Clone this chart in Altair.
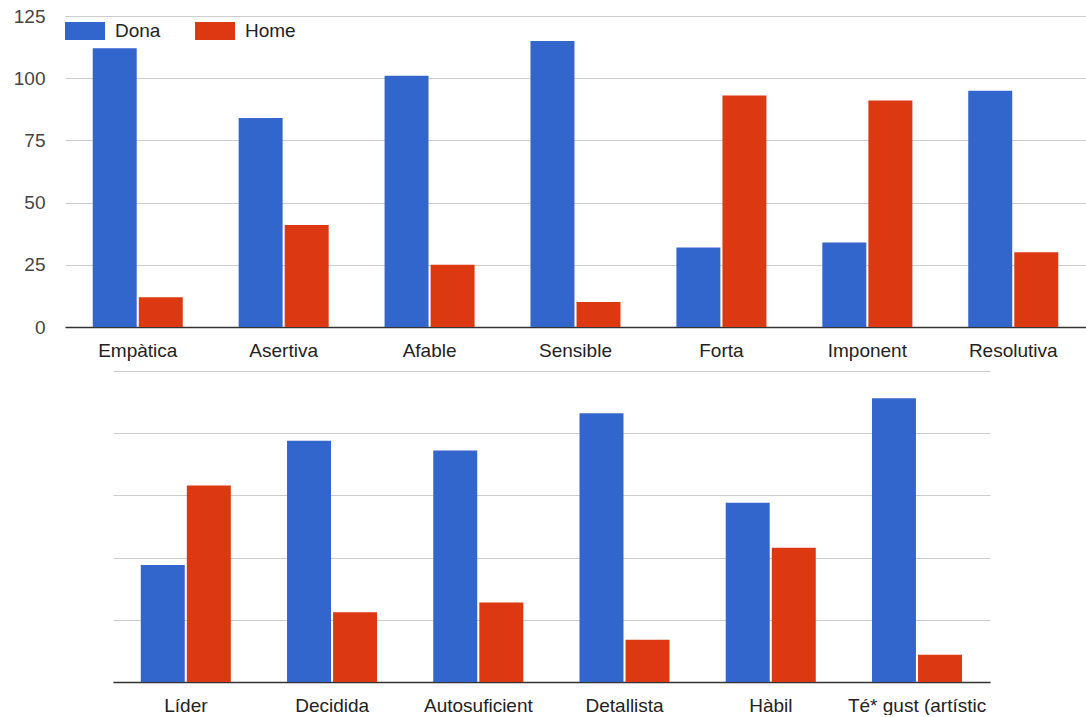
import altair as alt
import pandas as pd

# Series and colours
series = ["Dona", "Home"]
series_colors = ["#3366cc", "#dc3912"]

# Upper panel
top_categories = ["Empàtica", "Asertiva", "Afable", "Sensible", "Forta", "Imponent", "Resolutiva"]
top_dona = [112, 84, 101, 115, 32, 34, 95]
top_home = [12, 41, 25, 10, 93, 91, 30]

# Lower panel
bottom_categories = ["Líder", "Decidida", "Autosuficient", "Detallista", "Hàbil", "Té* gust (artístic"]
bottom_dona = [47, 97, 93, 108, 72, 114]
bottom_home = [79, 28, 32, 17, 54, 11]

y_ticks = [0, 25, 50, 75, 100, 125]

FONT = "Liberation Sans"


def long_table(categories, dona, home):
    rows = []
    for cat, d, h in zip(categories, dona, home):
        rows.append({"category": cat, "series": "Dona", "value": d})
        rows.append({"category": cat, "series": "Home", "value": h})
    return pd.DataFrame(rows)


def panel(categories, dona, home, width, show_y_labels, with_legend):
    df = long_table(categories, dona, home)
    if with_legend:
        legend = alt.Legend(
            title=None,
            orient="none",
            legendX=0,
            legendY=-5,
            direction="horizontal",
            symbolType="M-1,-0.45L1,-0.45L1,0.45L-1,0.45Z",
            symbolSize=1600,
            symbolStrokeWidth=0,
            symbolOpacity=1,
            labelFontSize=19,
            labelFont=FONT,
            labelColor="#222222",
            labelOffset=10,
            columnPadding=34,
            padding=0,
        )
    else:
        legend = None
    y_axis = alt.Axis(
        title=None,
        values=y_ticks,
        grid=True,
        gridColor="#cccccc",
        gridWidth=1,
        ticks=False,
        domain=False,
        labels=show_y_labels,
        labelFontSize=19,
        labelFont=FONT,
        labelColor="#444444",
        labelPadding=20,
        minExtent=60 if show_y_labels else 0,
        maxExtent=60 if show_y_labels else 0,
    )
    x_axis = alt.Axis(
        title=None,
        labelAngle=0,
        labelFontSize=19,
        labelFont=FONT,
        labelColor="#222222",
        labelPadding=14,
        labelLimit=400,
        ticks=False,
        grid=False,
        domainColor="#333333",
        domainWidth=1.5,
    )
    return (
        alt.Chart(df)
        .mark_bar()
        .encode(
            x=alt.X(
                "category:N",
                sort=categories,
                scale=alt.Scale(paddingInner=0.383, paddingOuter=0.19),
                axis=x_axis,
            ),
            xOffset=alt.XOffset(
                "series:N",
                sort=series,
                scale=alt.Scale(paddingInner=0.045, paddingOuter=0),
            ),
            y=alt.Y(
                "value:Q",
                scale=alt.Scale(domain=[0, 125], nice=False),
                axis=y_axis,
            ),
            color=alt.Color(
                "series:N",
                scale=alt.Scale(domain=series, range=series_colors),
                legend=legend,
            ),
        )
        .properties(width=width, height=311)
    )


upper = panel(top_categories, top_dona, top_home, 1021, True, True)
lower = panel(bottom_categories, bottom_dona, bottom_home, 877, False, False)

# blank column that indents the lower panel
indent = (
    alt.Chart(pd.DataFrame({"gap": [0]}))
    .mark_text(text="")
    .encode(x=alt.value(0), y=alt.value(0))
    .properties(width=38, height=1)
)

chart = (
    alt.vconcat(upper, alt.hconcat(indent, lower, spacing=10), spacing=5)
    .resolve_scale(color="independent", x="independent", y="independent")
    .resolve_legend(color="independent")
    .properties(padding={"left": 5, "top": 7, "right": 0, "bottom": 0})
    .configure_view(stroke=None)
)

chart.save("out.html", embed_options={"renderer": "svg", "actions": False})
